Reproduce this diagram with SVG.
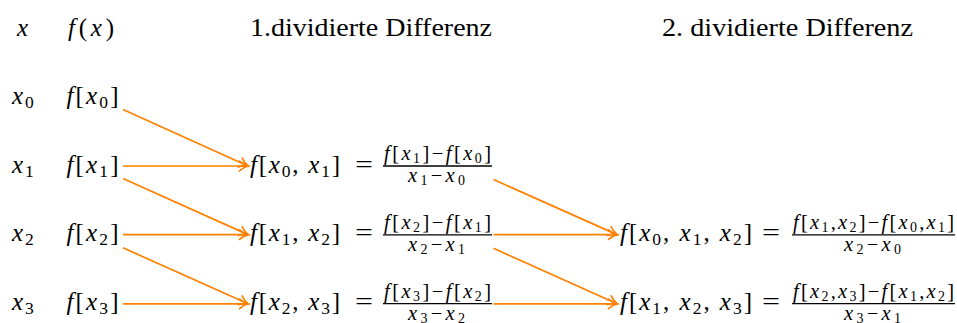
<svg xmlns="http://www.w3.org/2000/svg" width="957" height="323" viewBox="0 0 957 323" font-family="Liberation Serif, DejaVu Serif, serif">
<style>
.m { font-size: 25px; }
.sm { font-size: 20.5px; }
.s { font-size: 17.5px; }
.ss { font-size: 14px; }
.i { font-style: italic; }
.bar { stroke: #000; stroke-width: 1.3; }
.arr { stroke: #FF8000; stroke-width: 1.7; fill: none; marker-end: url(#ah); }
</style>
<defs>
<marker id="ah" markerUnits="userSpaceOnUse" markerWidth="14" markerHeight="14" viewBox="-10 -7 14 14" refX="0" refY="0" orient="auto">
<path d="M -8.5 -4.8 C -6 -2.4 -2.2 -0.7 0 0 C -2.2 0.7 -6 2.4 -8.5 4.8" fill="none" stroke="#FF8000" stroke-width="1.7" stroke-linecap="round"/>
</marker>
</defs>
<g fill="#000">
<g id="header-x"><text class="m i" x="17" y="36">x</text></g>
<g id="header-fx"><text class="m" x="68" y="36" textLength="46" lengthAdjust="spacing"><tspan class="i">f</tspan>(<tspan class="i">x</tspan>)</text></g>
<g id="header-1"><text class="m" x="250" y="36" textLength="242" lengthAdjust="spacingAndGlyphs">1.dividierte Differenz</text></g>
<g id="header-2"><text class="m" x="662" y="36" textLength="251" lengthAdjust="spacingAndGlyphs">2. dividierte Differenz</text></g>

<g id="x0"><text class="m" x="12" y="103.5"><tspan class="i">x</tspan><tspan class="s" dx="2" dy="4">0</tspan></text></g>
<g id="x1"><text class="m" x="12" y="172.5"><tspan class="i">x</tspan><tspan class="s" dx="2" dy="4">1</tspan></text></g>
<g id="x2"><text class="m" x="12" y="241.3"><tspan class="i">x</tspan><tspan class="s" dx="2" dy="4">2</tspan></text></g>
<g id="x3"><text class="m" x="12" y="310.2"><tspan class="i">x</tspan><tspan class="s" dx="2" dy="4">3</tspan></text></g>

<g id="fx0"><text class="m" x="66.5" y="103.5" textLength="52" lengthAdjust="spacing"><tspan class="i">f</tspan>[<tspan class="i">x</tspan><tspan class="s" dy="4">0</tspan><tspan dy="-4">]</tspan></text></g>
<g id="fx1"><text class="m" x="66.5" y="172.5" textLength="52" lengthAdjust="spacing"><tspan class="i">f</tspan>[<tspan class="i">x</tspan><tspan class="s" dy="4">1</tspan><tspan dy="-4">]</tspan></text></g>
<g id="fx2"><text class="m" x="66.5" y="241.3" textLength="52" lengthAdjust="spacing"><tspan class="i">f</tspan>[<tspan class="i">x</tspan><tspan class="s" dy="4">2</tspan><tspan dy="-4">]</tspan></text></g>
<g id="fx3"><text class="m" x="66.5" y="310.2" textLength="52" lengthAdjust="spacing"><tspan class="i">f</tspan>[<tspan class="i">x</tspan><tspan class="s" dy="4">3</tspan><tspan dy="-4">]</tspan></text></g>

<g id="d01">
<text class="m" x="250" y="172.5" textLength="90" lengthAdjust="spacing"><tspan class="i">f</tspan>[<tspan class="i">x</tspan><tspan class="s" dy="4">0</tspan><tspan dy="-4">, </tspan><tspan class="i">x</tspan><tspan class="s" dy="4">1</tspan><tspan dy="-4">]</tspan></text>
<text class="m" x="355" y="172.5" textLength="18" lengthAdjust="spacingAndGlyphs">=</text>
<line class="bar" x1="383" y1="166" x2="492" y2="166"/>
<text class="sm" x="384" y="160" textLength="107" lengthAdjust="spacing"><tspan class="i">f</tspan>[<tspan class="i">x</tspan><tspan class="ss" dy="3">1</tspan><tspan dy="-3">]−</tspan><tspan class="i">f</tspan>[<tspan class="i">x</tspan><tspan class="ss" dy="3">0</tspan><tspan dy="-3">]</tspan></text>
<text class="sm" x="408" y="182" textLength="57" lengthAdjust="spacing"><tspan class="i">x</tspan><tspan class="ss" dy="3">1</tspan><tspan dy="-3">−</tspan><tspan class="i">x</tspan><tspan class="ss" dy="3">0</tspan></text>
</g>

<g id="d12">
<text class="m" x="250" y="241.3" textLength="90" lengthAdjust="spacing"><tspan class="i">f</tspan>[<tspan class="i">x</tspan><tspan class="s" dy="4">1</tspan><tspan dy="-4">, </tspan><tspan class="i">x</tspan><tspan class="s" dy="4">2</tspan><tspan dy="-4">]</tspan></text>
<text class="m" x="355" y="241.3" textLength="18" lengthAdjust="spacingAndGlyphs">=</text>
<line class="bar" x1="383" y1="234.8" x2="492" y2="234.8"/>
<text class="sm" x="384" y="228.8" textLength="107" lengthAdjust="spacing"><tspan class="i">f</tspan>[<tspan class="i">x</tspan><tspan class="ss" dy="3">2</tspan><tspan dy="-3">]−</tspan><tspan class="i">f</tspan>[<tspan class="i">x</tspan><tspan class="ss" dy="3">1</tspan><tspan dy="-3">]</tspan></text>
<text class="sm" x="408" y="250.8" textLength="57" lengthAdjust="spacing"><tspan class="i">x</tspan><tspan class="ss" dy="3">2</tspan><tspan dy="-3">−</tspan><tspan class="i">x</tspan><tspan class="ss" dy="3">1</tspan></text>
</g>

<g id="d23">
<text class="m" x="250" y="310.2" textLength="90" lengthAdjust="spacing"><tspan class="i">f</tspan>[<tspan class="i">x</tspan><tspan class="s" dy="4">2</tspan><tspan dy="-4">, </tspan><tspan class="i">x</tspan><tspan class="s" dy="4">3</tspan><tspan dy="-4">]</tspan></text>
<text class="m" x="355" y="310.2" textLength="18" lengthAdjust="spacingAndGlyphs">=</text>
<line class="bar" x1="383" y1="303.7" x2="492" y2="303.7"/>
<text class="sm" x="384" y="297.7" textLength="107" lengthAdjust="spacing"><tspan class="i">f</tspan>[<tspan class="i">x</tspan><tspan class="ss" dy="3">3</tspan><tspan dy="-3">]−</tspan><tspan class="i">f</tspan>[<tspan class="i">x</tspan><tspan class="ss" dy="3">2</tspan><tspan dy="-3">]</tspan></text>
<text class="sm" x="408" y="319.5" textLength="57" lengthAdjust="spacing"><tspan class="i">x</tspan><tspan class="ss" dy="3">3</tspan><tspan dy="-3">−</tspan><tspan class="i">x</tspan><tspan class="ss" dy="3">2</tspan></text>
</g>

<g id="d012">
<text class="m" x="620" y="241.3" textLength="132" lengthAdjust="spacing"><tspan class="i">f</tspan>[<tspan class="i">x</tspan><tspan class="s" dy="4">0</tspan><tspan dy="-4">, </tspan><tspan class="i">x</tspan><tspan class="s" dy="4">1</tspan><tspan dy="-4">, </tspan><tspan class="i">x</tspan><tspan class="s" dy="4">2</tspan><tspan dy="-4">]</tspan></text>
<text class="m" x="762" y="241.3" textLength="18" lengthAdjust="spacingAndGlyphs">=</text>
<line class="bar" x1="792" y1="234.8" x2="955" y2="234.8"/>
<text class="sm" x="793" y="228.8" textLength="161" lengthAdjust="spacing"><tspan class="i">f</tspan>[<tspan class="i">x</tspan><tspan class="ss" dy="3">1</tspan><tspan dy="-3">,</tspan><tspan class="i">x</tspan><tspan class="ss" dy="3">2</tspan><tspan dy="-3">]−</tspan><tspan class="i">f</tspan>[<tspan class="i">x</tspan><tspan class="ss" dy="3">0</tspan><tspan dy="-3">,</tspan><tspan class="i">x</tspan><tspan class="ss" dy="3">1</tspan><tspan dy="-3">]</tspan></text>
<text class="sm" x="844" y="250.8" textLength="57" lengthAdjust="spacing"><tspan class="i">x</tspan><tspan class="ss" dy="3">2</tspan><tspan dy="-3">−</tspan><tspan class="i">x</tspan><tspan class="ss" dy="3">0</tspan></text>
</g>

<g id="d123">
<text class="m" x="620" y="310.2" textLength="132" lengthAdjust="spacing"><tspan class="i">f</tspan>[<tspan class="i">x</tspan><tspan class="s" dy="4">1</tspan><tspan dy="-4">, </tspan><tspan class="i">x</tspan><tspan class="s" dy="4">2</tspan><tspan dy="-4">, </tspan><tspan class="i">x</tspan><tspan class="s" dy="4">3</tspan><tspan dy="-4">]</tspan></text>
<text class="m" x="762" y="310.2" textLength="18" lengthAdjust="spacingAndGlyphs">=</text>
<line class="bar" x1="792" y1="303.7" x2="955" y2="303.7"/>
<text class="sm" x="793" y="297.7" textLength="161" lengthAdjust="spacing"><tspan class="i">f</tspan>[<tspan class="i">x</tspan><tspan class="ss" dy="3">2</tspan><tspan dy="-3">,</tspan><tspan class="i">x</tspan><tspan class="ss" dy="3">3</tspan><tspan dy="-3">]−</tspan><tspan class="i">f</tspan>[<tspan class="i">x</tspan><tspan class="ss" dy="3">1</tspan><tspan dy="-3">,</tspan><tspan class="i">x</tspan><tspan class="ss" dy="3">2</tspan><tspan dy="-3">]</tspan></text>
<text class="sm" x="844" y="319.5" textLength="57" lengthAdjust="spacing"><tspan class="i">x</tspan><tspan class="ss" dy="3">3</tspan><tspan dy="-3">−</tspan><tspan class="i">x</tspan><tspan class="ss" dy="3">1</tspan></text>
</g>
</g>
<g id="connectors">
<line class="arr" x1="123" y1="109.5" x2="248" y2="166"/>
<line class="arr" x1="123" y1="166" x2="248" y2="166"/>
<line class="arr" x1="123" y1="178.5" x2="248" y2="234.6"/>
<line class="arr" x1="123" y1="234.6" x2="248" y2="234.6"/>
<line class="arr" x1="123" y1="247.8" x2="248" y2="303.8"/>
<line class="arr" x1="123" y1="303.8" x2="248" y2="303.8"/>
<line class="arr" x1="493.5" y1="179.5" x2="617" y2="234.6"/>
<line class="arr" x1="493.5" y1="234.6" x2="617" y2="234.6"/>
<line class="arr" x1="493.5" y1="248.3" x2="617" y2="303.8"/>
<line class="arr" x1="493.5" y1="303.8" x2="617" y2="303.8"/>
</g>
</svg>
